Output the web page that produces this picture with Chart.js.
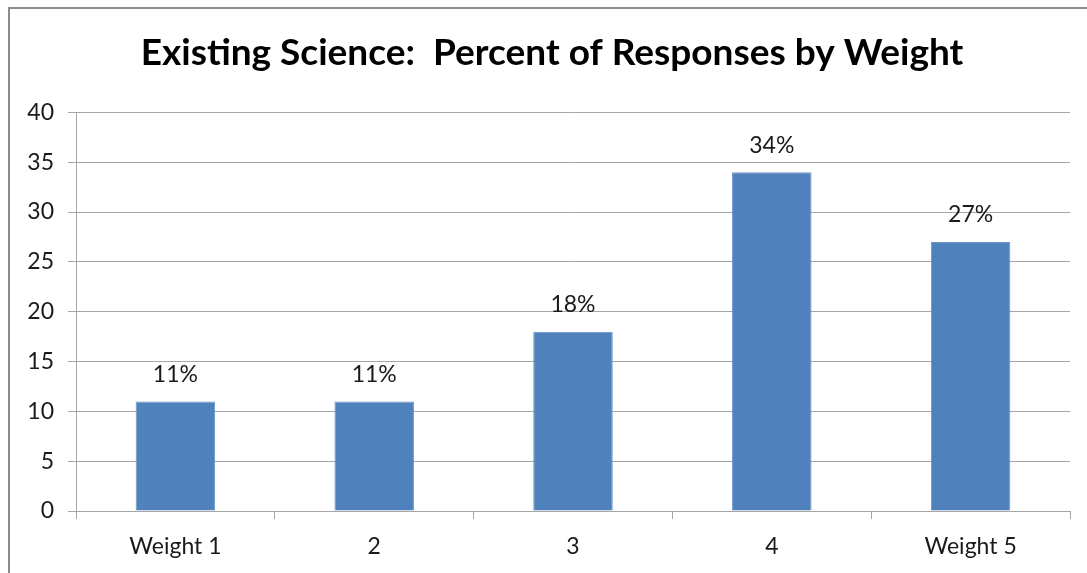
<!DOCTYPE html>
<html>
<head>
<meta charset="utf-8">
<script src="https://cdn.jsdelivr.net/npm/chart.js@4/dist/chart.umd.min.js"></script>
<style>
  html, body { margin: 0; padding: 0; background: #ffffff; }
  #wrap { position: relative; width: 1087px; height: 573px; }
</style>
</head>
<body>
<div id="wrap"><canvas id="chart" width="1087" height="573"></canvas></div>
<script>
// Response share for each weight
const categories = ['Weight 1', '2', '3', '4', 'Weight 5'];
const percentValues = [11, 11, 18, 34, 27];
const yTicks = [0, 5, 10, 15, 20, 25, 30, 35, 40];

const FONT = 'Lato, "Open Sans", sans-serif';
const BAR_BLUE = '#4F81BD';
const GRID_GRAY = '#A6A6A6';

// Outer frame of the chart panel (left and top edges)
const framePlugin = {
  id: 'frame',
  afterLayout(chart) {
    // center the heading on the full panel rather than the padded layout box
    if (chart.titleBlock) {
      chart.titleBlock.left += 17;
      chart.titleBlock.right += 17;
    }
  },
  beforeDraw(chart) {
    const ctx = chart.ctx;
    ctx.save();
    ctx.fillStyle = '#ffffff';
    ctx.fillRect(0, 0, chart.width, chart.height);
    ctx.strokeStyle = '#8c8c8c';
    ctx.lineWidth = 2;
    ctx.beginPath();
    ctx.moveTo(9, chart.height);
    ctx.lineTo(9, 8);
    ctx.lineTo(chart.width, 8);
    ctx.stroke();
    ctx.restore();
  }
};

// Percentage labels above each bar
const valueLabelPlugin = {
  id: 'valueLabels',
  afterDatasetsDraw(chart) {
    const ctx = chart.ctx;
    const meta = chart.getDatasetMeta(0);
    ctx.save();
    ctx.font = '23px ' + FONT;
    ctx.fillStyle = '#1a1a1a';
    ctx.textAlign = 'center';
    ctx.textBaseline = 'middle';
    meta.data.forEach((bar, i) => {
      ctx.fillText(percentValues[i] + '%', bar.x, bar.y - 27);
    });
    ctx.restore();
  }
};

new Chart(document.getElementById('chart'), {
  type: 'bar',
  data: {
    labels: categories,
    datasets: [{
      data: percentValues,
      backgroundColor: BAR_BLUE,
      borderColor: '#6b95c8',
      borderWidth: 1,
      categoryPercentage: 0.4,
      barPercentage: 1.0
    }]
  },
  options: {
    responsive: false,
    animation: false,
    devicePixelRatio: 1,
    layout: { padding: { top: 8, right: 17, bottom: 0, left: 0 } },
    plugins: {
      legend: { display: false },
      tooltip: { enabled: false },
      title: {
        display: true,
        text: 'Existing Science:  Percent of Responses by Weight',
        color: '#000000',
        font: { family: FONT, size: 37, weight: 'bold' },
        padding: { top: 23, bottom: 37 }
      }
    },
    scales: {
      x: {
        grid: {
          offset: true,
          drawOnChartArea: false,
          drawTicks: true,
          tickLength: 8,
          color: GRID_GRAY,
          lineWidth: 1
        },
        border: { display: true, color: GRID_GRAY, width: 1 },
        ticks: {
          color: '#1a1a1a',
          font: { family: FONT, size: 23 },
          padding: 14
        },
        afterFit(scale) { scale.height = 62; }
      },
      y: {
        min: 0,
        max: 40,
        afterBuildTicks(scale) { scale.ticks = yTicks.map(v => ({ value: v })); },
        grid: {
          color: GRID_GRAY,
          lineWidth: 1,
          drawTicks: true,
          tickLength: 8
        },
        border: { display: true, color: GRID_GRAY, width: 1 },
        ticks: {
          color: '#1a1a1a',
          font: { family: FONT, size: 23 },
          padding: 14
        },
        afterFit(scale) { scale.width = 76; }
      }
    }
  },
  plugins: [framePlugin, valueLabelPlugin]
});
</script>
</body>
</html>
